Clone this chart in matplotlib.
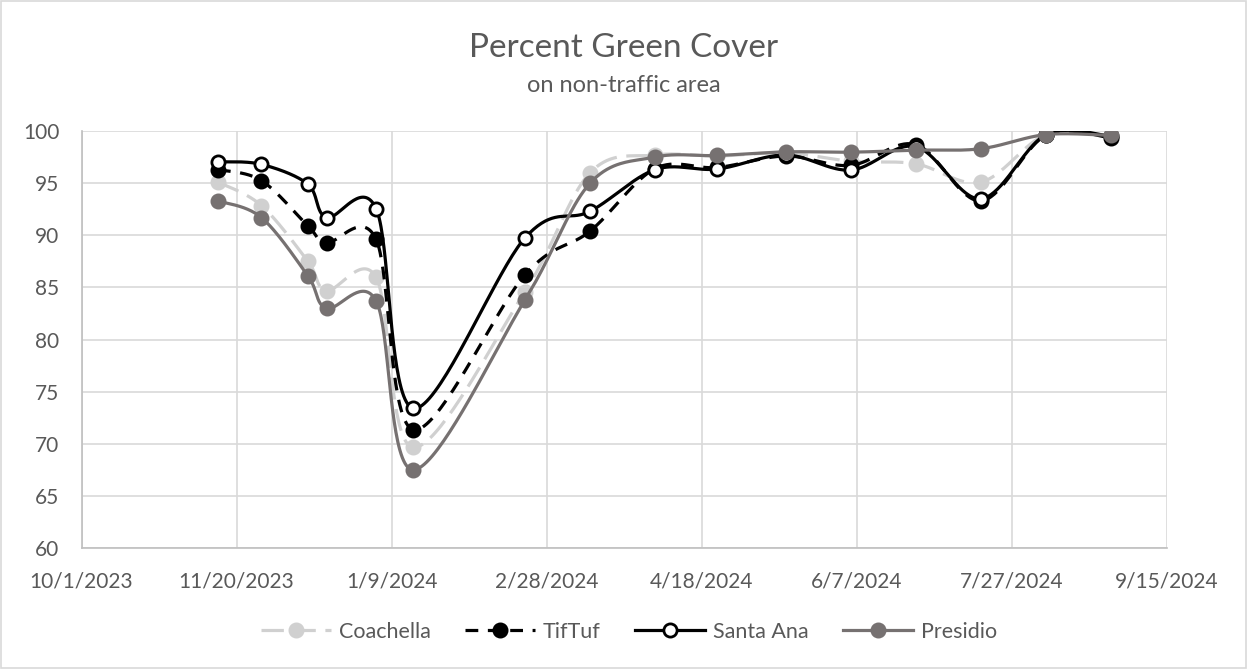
import numpy as np
import pandas as pd
import matplotlib
matplotlib.use("Agg")
import matplotlib.pyplot as plt
import matplotlib.dates as mdates
from matplotlib.lines import Line2D
from matplotlib.patches import Rectangle
from matplotlib.ticker import FuncFormatter, FixedLocator

plt.rcParams['font.family'] = ['Lato', 'DejaVu Sans']

# sample dates
dates = ['2023-11-14', '2023-11-28', '2023-12-13', '2023-12-19', '2024-01-04',
         '2024-01-16', '2024-02-21', '2024-03-13', '2024-04-03', '2024-04-23',
         '2024-05-15', '2024-06-05', '2024-06-26', '2024-07-17', '2024-08-07',
         '2024-08-28']

coachella = [95.1, 92.85, 87.5, 84.7, 85.95, 69.65, 84.6, 96.0, 97.7, 97.6,
             97.9, 97.1, 96.85, 95.1, 99.65, 99.55]
tiftuf = [96.3, 95.25, 90.9, 89.3, 89.6, 71.35, 86.2, 90.4, 96.4, 96.5,
          97.6, 96.7, 98.7, 93.3, 99.6, 99.35]
santa_ana = [97.05, 96.8, 94.9, 91.7, 92.55, 73.4, 89.75, 92.3, 96.3, 96.35,
             97.7, 96.25, 98.5, 93.5, 99.65, 99.5]
presidio = [93.3, 91.7, 86.1, 83.0, 83.7, 67.5, 83.8, 95.0, 97.5, 97.65,
            98.0, 97.97, 98.16, 98.3, 99.66, 99.57]

x_start, x_end = '2023-10-01', '2024-09-15'
y_min, y_max, y_step = 60, 100, 5

x = mdates.date2num(pd.to_datetime(dates))


def smooth(xv, yv, k, n=40):
    # excel-like smoothed line: cubic bezier, control points at 1/6 of neighbour chord
    p = np.column_stack([xv, np.asarray(yv) * k])
    p = np.vstack([p[0], p, p[-1]])
    out = []
    t = np.linspace(0, 1, n)[:, None]
    for i in range(1, len(p) - 2):
        p0, p1, p2, p3 = p[i - 1], p[i], p[i + 1], p[i + 2]
        b1 = p1 + (p2 - p0) / 6
        b2 = p2 - (p3 - p1) / 6
        seg = ((1 - t) ** 3) * p1 + 3 * ((1 - t) ** 2) * t * b1 + 3 * (1 - t) * t ** 2 * b2 + t ** 3 * p2
        out.append(seg if i == 1 else seg[1:])
    out = np.vstack(out)
    return out[:, 0], out[:, 1] / k


fig = plt.figure(figsize=(12.47, 6.69), dpi=100)
ax = fig.add_axes([81.5 / 1247, 1 - 548 / 669, (1167 - 81.5) / 1247, (548 - 131) / 669])

# px per day vs px per unit, for isotropic smoothing
k = 10.42 / 3.1

lw = 2.3
ms = 9.5
styles = [
    ('Coachella', coachella, dict(color='#D0D0D0', dashes=(7, 3)), dict(mfc='#D0D0D0', mec='#D0D0D0')),
    ('TifTuf', tiftuf, dict(color='#000000', dashes=(4, 3)), dict(mfc='#000000', mec='#000000')),
    ('Santa Ana', santa_ana, dict(color='#000000'), dict(mfc='#FFFFFF', mec='#000000')),
    ('Presidio', presidio, dict(color='#767171'), dict(mfc='#767171', mec='#767171')),
]

handles = []
for i, (name, vals, lstyle, mstyle) in enumerate(styles):
    sx, sy = smooth(x, vals, k)
    ax.plot(sx, sy, lw=lw, zorder=3 + i, solid_capstyle='round', **lstyle)
    ax.plot(x, vals, ls='none', marker='o', ms=ms, mew=2, zorder=3 + i, **mstyle)
    handles.append(Line2D([], [], lw=lw, marker='o', ms=ms, mew=2, **lstyle, **mstyle))

x0 = mdates.date2num(pd.Timestamp(x_start))
x1 = mdates.date2num(pd.Timestamp(x_end))
ax.set_xlim(x0, x1)
ax.set_ylim(y_min, y_max)
ax.xaxis.set_major_locator(FixedLocator(np.arange(x0, x1 + 1, 50)))
ax.xaxis.set_major_formatter(FuncFormatter(
    lambda v, p: f"{mdates.num2date(v).month}/{mdates.num2date(v).day}/{mdates.num2date(v).year}"))
ax.set_yticks(np.arange(y_min, y_max + 1, y_step))

ax.grid(True, color='#D9D9D9', lw=1.2, zorder=0)
ax.set_axisbelow(True)
for s in ['top', 'right']:
    ax.spines[s].set_visible(False)
for s in ['left', 'bottom']:
    ax.spines[s].set_color('#BFBFBF')
    ax.spines[s].set_linewidth(1.2)
ax.tick_params(length=0, labelsize=15, labelcolor='#595959')
ax.tick_params(axis='x', pad=17)
ax.tick_params(axis='y', pad=16)

fig.text(0.5, 1 - 57 / 669, 'Percent Green Cover', ha='center', va='baseline', fontsize=24, color='#595959')
fig.text(0.5, 1 - 92 / 669, 'on non-traffic area', ha='center', va='baseline', fontsize=17, color='#595959')

fig.legend(handles, [s[0] for s in styles], loc='center', bbox_to_anchor=(629 / 1247, 1 - 632 / 669),
           ncol=4, frameon=False, fontsize=15.5, handlelength=3.25, columnspacing=1.6,
           handletextpad=0.37, labelcolor='#595959')

fig.patches.append(Rectangle((0.0008, 0.0015), 0.9984, 0.997, transform=fig.transFigure,
                             fill=False, ec='#D9D9D9', lw=1.2))

fig.savefig('out.png', dpi=100)
